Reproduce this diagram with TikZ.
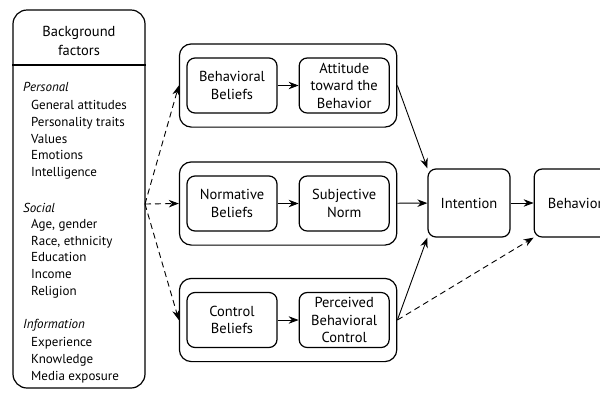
\documentclass[tikz,border=0pt]{standalone}
\usepackage{fontspec}
\setmainfont{PT Sans}
\usetikzlibrary{positioning, fit, arrows.meta}

\tikzset{
	bgbox/.style={draw, line width=1.2pt, rounded corners=14pt, minimum width=132pt, minimum height=378pt},
	factor/.style={draw, line width=1.2pt, rounded corners=8pt, minimum width=90pt, minimum height=55pt, align=center, inner sep=1pt, font=\fontsize{14.5}{17.5}\selectfont},
	group/.style={draw, line width=1.2pt, rounded corners=12pt, inner xsep=7pt, inner ysep=13.5pt},
	heading/.style={anchor=west, inner sep=0pt, font=\fontsize{13}{16.7}\selectfont\itshape},
	items/.style={anchor=west, inner sep=0pt, align=left},
	link/.style={-{Stealth[length=10pt, width=7.5pt]}, line width=0.9pt},
	maybe/.style={link, dash pattern=on 6pt off 4pt}
}

\begin{document}
\begin{tikzpicture}[x=1pt, y=-1pt, font=\fontsize{13}{16.7}\selectfont, node distance=21pt]
	\path[use as bounding box, clip] (0,0) rectangle (600,392);
	\node[bgbox] (bg) at (79,199) {};
	\coordinate (hdr) at (0,65);
	\coordinate (fan) at (145,204);
	\node[align=center, font=\fontsize{14.5}{18.5}\selectfont] (title) at (79,41) {Background\\factors};
	\node[heading] (personal) at (23,87) {Personal};
	\node[items] (personalitems) at (31,140) {General attitudes\\Personality traits\\Values\\Emotions\\Intelligence};
	\node[heading] (social) at (23,208) {Social};
	\node[items] (socialitems) at (31,258.5) {Age, gender\\Race, ethnicity\\Education\\Income\\Religion};
	\node[heading] (info) at (23,325) {Information};
	\node[items] (infoitems) at (31,360) {Experience\\Knowledge\\Media exposure};
	
	\node[factor] (bbel) at (232,85.5) {Behavioral\\Beliefs};
	\node[factor, right=of bbel] (att) {Attitude\\toward the\\Behavior};
	\node[factor] (nbel) at (232,203.5) {Normative\\Beliefs};
	\node[factor, right=of nbel] (snorm) {Subjective\\Norm};
	\node[factor] (cbel) at (232,320) {Control\\Beliefs};
	\node[factor, right=of cbel] (pbc) {Perceived\\Behavioral\\Control};
	\node[group, fit=(bbel)(att)] (g1) {};
	\node[group, fit=(nbel)(snorm)] (g2) {};
	\node[group, fit=(cbel)(pbc)] (g3) {};
	
	\node[factor, minimum width=82pt, minimum height=68pt] (intent) at (469,203) {Intention};
	\node[factor, minimum width=82pt, minimum height=68pt, right=23pt of intent] (behav) {Behavior};
	
	\draw[line width=1.2pt] (bg.west |- hdr) -- (bg.east |- hdr);
	\draw[maybe] (fan) -- (g1.west);
	\draw[maybe] (fan) -- (g2.west);
	\draw[maybe] (fan) -- (g3.west);
	\draw[link] (bbel) -- (att);
	\draw[link] (nbel) -- (snorm);
	\draw[link] (cbel) -- (pbc);
	\draw[link] (g1.east) -- (intent.north west);
	\draw[link] (g2) -- (intent);
	\draw[link] (g3.east) -- (intent.south west);
	\draw[maybe] (g3.east) -- (behav.south west);
	\draw[link] (intent) -- (behav);
\end{tikzpicture}
\end{document}
